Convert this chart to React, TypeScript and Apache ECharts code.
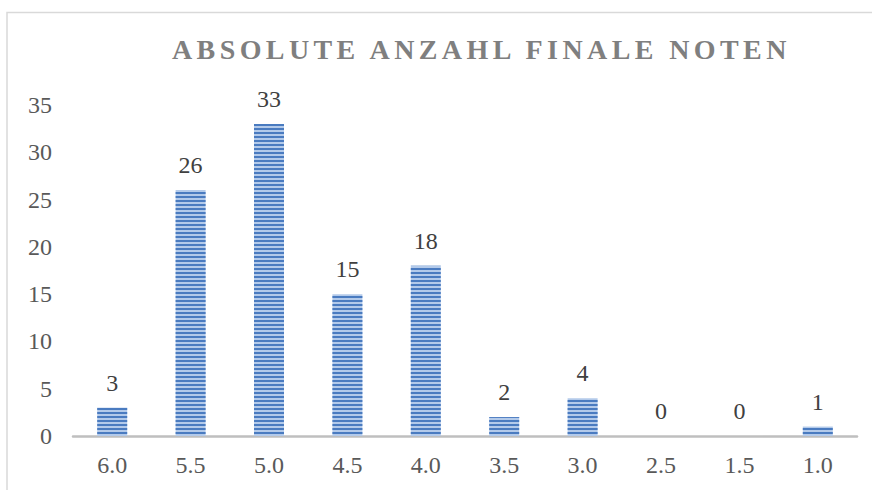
import React, { useEffect, useRef } from 'react';
import * as echarts from 'echarts';

const categories = ['6.0', '5.5', '5.0', '4.5', '4.0', '3.5', '3.0', '2.5', '1.5', '1.0'];
const counts = [3, 26, 33, 15, 18, 2, 4, 0, 0, 1];
const yMin = 0;
const yMax = 35;
const yInterval = 5;
const titleText = 'ABSOLUTE ANZAHL FINALE NOTEN';

const FONT = '"Liberation Serif", "Times New Roman", serif';

export default function App() {
  const ref = useRef<HTMLDivElement>(null);

  useEffect(() => {
    if (!ref.current) return;
    const chart = echarts.init(ref.current, null, { renderer: 'svg', width: 872, height: 490 });

    const applySpacing = () => {
      if (!ref.current) return;
      ref.current.querySelectorAll('text').forEach((t) => {
        if (t.textContent === titleText) {
          t.setAttribute('letter-spacing', '4.4');
        }
      });
    };
    chart.on('finished', applySpacing);

    chart.setOption({
      animation: false,
      backgroundColor: '#ffffff',
      graphic: [
        {
          type: 'rect',
          silent: true,
          shape: { x: 7, y: 12.5, width: 900, height: 520 },
          style: { fill: 'none', stroke: '#D9D9D9', lineWidth: 1.5 },
        },
        {
          type: 'text',
          silent: true,
          x: 172,
          y: 49,
          style: {
            text: titleText,
            font: 'bold 28px ' + FONT,
            fill: '#7F7F7F',
            align: 'left',
            verticalAlign: 'middle',
          },
        },
      ],
      grid: { left: 73, right: 15, top: 105, bottom: 54 },
      xAxis: {
        type: 'category',
        data: categories,
        axisLine: { lineStyle: { color: '#BFBFBF', width: 2.5 } },
        axisTick: { show: false },
        axisLabel: { fontFamily: FONT, fontSize: 24, color: '#595959', margin: 17 },
        splitLine: { show: false },
      },
      yAxis: {
        type: 'value',
        min: yMin,
        max: yMax,
        interval: yInterval,
        splitLine: { show: false },
        axisLine: { show: false },
        axisTick: { show: false },
        axisLabel: { fontFamily: FONT, fontSize: 24, color: '#595959', margin: 21 },
      },
      series: [
        {
          type: 'bar',
          data: counts,
          barWidth: 30,
          itemStyle: {
            color: '#B3CAEA',
            decal: {
              color: '#4A7BC0',
              symbol: 'rect',
              symbolSize: 1,
              dashArrayX: [1, 0],
              dashArrayY: [1.5, 1.5],
              rotation: 0,
            },
          },
          label: {
            show: true,
            position: 'top',
            distance: 13,
            fontFamily: FONT,
            fontSize: 24,
            color: '#404040',
          },
        },
      ],
    });
    applySpacing();
    const t = setTimeout(applySpacing, 0);

    return () => {
      clearTimeout(t);
      chart.dispose();
    };
  }, []);

  return (
    <div
      ref={ref}
      style={{ position: 'fixed', left: 0, top: 0, width: 872, height: 490, background: '#fff' }}
    />
  );
}
